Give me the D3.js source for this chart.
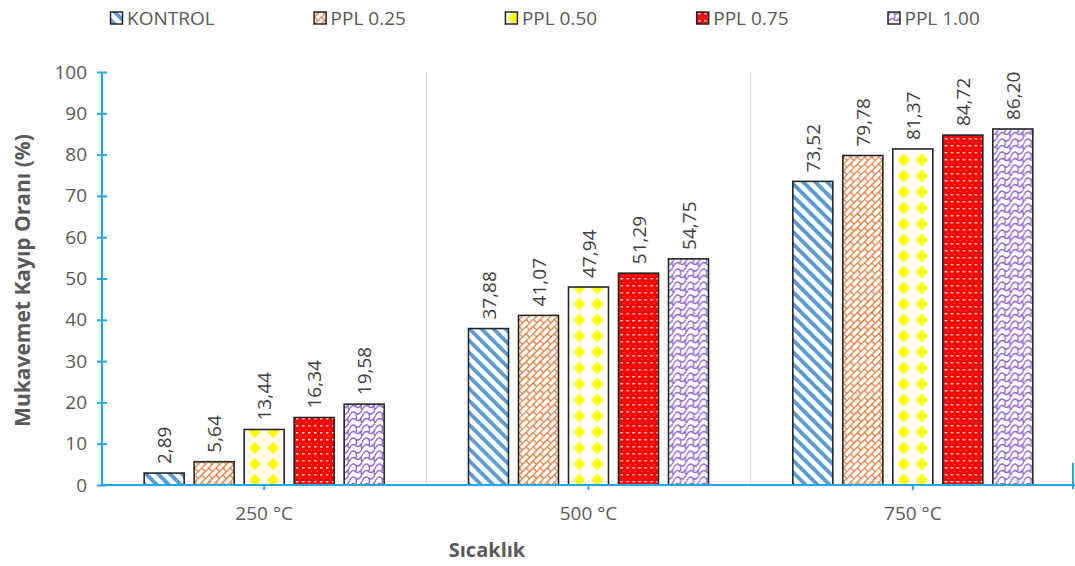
<!DOCTYPE html>
<html>
<head>
<meta charset="utf-8">
<script src="https://cdn.jsdelivr.net/npm/d3@7"></script>
<style>
  body { margin: 0; background: #fff; }
  text { font-family: "Open Sans", "DejaVu Sans", sans-serif; }
</style>
</head>
<body>
<div id="chart"></div>
<script>
// Data
const categories = ['250 °C', '500 °C', '750 °C'];
const seriesNames = ['KONTROL', 'PPL 0.25', 'PPL 0.50', 'PPL 0.75', 'PPL 1.00'];
const kontrol = [2.89, 37.88, 73.52];
const ppl025  = [5.64, 41.07, 79.78];
const ppl050  = [13.44, 47.94, 81.37];
const ppl075  = [16.34, 51.29, 84.72];
const ppl100  = [19.58, 54.75, 86.20];
const yTicks  = [0, 10, 20, 30, 40, 50, 60, 70, 80, 90, 100];

const seriesValues = [kontrol, ppl025, ppl050, ppl075, ppl100];
const patternIds = ['pStripe', 'pBrick', 'pDiamond', 'pDots', 'pShingle'];

const W = 1075, H = 566;
const margin = { top: 72, right: 0, bottom: 81, left: 102 };
const innerW = W - margin.left - margin.right;
const innerH = H - margin.top - margin.bottom;

const axisBlue = '#21a8e8';
const textGray = '#595959';
const fontSize = 19;

const svg = d3.select('#chart').append('svg')
  .attr('width', W).attr('height', H);

// ---- fill patterns (Excel-like) ----
const defs = svg.append('defs');

// blue wide diagonal stripes
const pStripe = defs.append('pattern').attr('id', 'pStripe')
  .attr('patternUnits', 'userSpaceOnUse').attr('width', 8.5).attr('height', 8.5)
  .attr('patternTransform', 'rotate(-45)');
pStripe.append('rect').attr('width', 8.5).attr('height', 8.5).attr('fill', '#fff');
pStripe.append('rect').attr('width', 3.8).attr('height', 8.5).attr('fill', '#5b9bd5');

// orange diagonal brick
const pBrick = defs.append('pattern').attr('id', 'pBrick')
  .attr('patternUnits', 'userSpaceOnUse').attr('width', 10).attr('height', 10)
  .attr('patternTransform', 'rotate(-45)');
pBrick.append('rect').attr('width', 10).attr('height', 10).attr('fill', '#fff');
pBrick.append('path')
  .attr('d', 'M0,0.5H10M0,5.5H10M0.5,0.5V5.5M5.5,5.5V10')
  .attr('stroke', '#e07b3c').attr('stroke-width', 1.3).attr('fill', 'none');

// yellow diamonds
const pDiamond = defs.append('pattern').attr('id', 'pDiamond')
  .attr('patternUnits', 'userSpaceOnUse').attr('width', 18).attr('height', 16);
pDiamond.append('rect').attr('width', 18).attr('height', 16).attr('fill', '#fff');
pDiamond.append('path').attr('d', 'M9,1.5L15,8L9,14.5L3,8Z').attr('fill', '#ffff00');

// red with small white dots
const pDots = defs.append('pattern').attr('id', 'pDots')
  .attr('patternUnits', 'userSpaceOnUse').attr('width', 6).attr('height', 7);
pDots.append('rect').attr('width', 6).attr('height', 7).attr('fill', '#ff0000');
pDots.append('rect').attr('x', 2).attr('y', 3).attr('width', 2.5).attr('height', 1.5)
  .attr('fill', '#fff').attr('opacity', 0.85);
pDots.append('rect').attr('x', 5).attr('y', 0).attr('width', 1).attr('height', 1)
  .attr('fill', '#ffb0b0').attr('opacity', 0.6);

// purple shingle
const pShingle = defs.append('pattern').attr('id', 'pShingle')
  .attr('patternUnits', 'userSpaceOnUse').attr('width', 13).attr('height', 13);
pShingle.append('rect').attr('width', 13).attr('height', 13).attr('fill', '#fff');
pShingle.append('path')
  .attr('d', 'M0,6.5 Q3,0 6.5,3 T13,0 M0,13 Q3,6.5 6.5,9.5 T13,6.5 M6.5,3 Q8.5,6.5 6.5,9.5 M0,6.5 Q-2,10 0,13 M13,6.5 Q11,10 13,13')
  .attr('stroke', '#9467d0').attr('stroke-width', 1.4).attr('fill', 'none');

// ---- scales ----
const g = svg.append('g').attr('transform', `translate(${margin.left},${margin.top})`);

const x0 = d3.scaleBand().domain(categories).range([0, innerW]).padding(0);
const groupW = 240;
const x1 = d3.scaleBand().domain(seriesNames)
  .range([(x0.bandwidth() - groupW) / 2, (x0.bandwidth() + groupW) / 2])
  .paddingInner(0.2);
const y = d3.scaleLinear().domain([0, 100]).range([innerH, 0]);

// category separators (light gray gridlines)
g.append('g').selectAll('line')
  .data(categories.slice(1))
  .join('line')
  .attr('x1', d => x0(d)).attr('x2', d => x0(d))
  .attr('y1', 0).attr('y2', innerH)
  .attr('stroke', '#d9d9d9').attr('stroke-width', 1);

// ---- bars ----
const fmt = d3.formatLocale({ decimal: ',', thousands: '.', grouping: [3], currency: ['', ''] }).format('.2f');

const groups = g.append('g').selectAll('g')
  .data(categories)
  .join('g')
  .attr('transform', d => `translate(${x0(d)},0)`);

const cells = groups.selectAll('g')
  .data((c, ci) => seriesNames.map((s, si) => ({ s, si, v: seriesValues[si][ci] })))
  .join('g');

cells.append('rect')
  .attr('x', d => x1(d.s))
  .attr('y', d => y(d.v))
  .attr('width', x1.bandwidth())
  .attr('height', d => innerH - y(d.v))
  .attr('fill', d => `url(#${patternIds[d.si]})`)
  .attr('stroke', '#262626').attr('stroke-width', 1.6);

cells.append('text')
  .attr('transform', d => `translate(${x1(d.s) + x1.bandwidth() / 2 + 7},${y(d.v) - 9}) rotate(-90)`)
  .attr('text-anchor', 'start')
  .attr('font-size', fontSize)
  .attr('fill', '#404040')
  .text(d => fmt(d.v));

// ---- y axis ----
const yAxis = d3.axisLeft(y).tickValues(yTicks).tickSize(0).tickPadding(15);
const yG = g.append('g').call(yAxis);
yG.select('.domain').remove();
yG.selectAll('text').attr('font-size', fontSize).attr('fill', textGray)
  .attr('font-family', '"Open Sans", sans-serif');
yG.selectAll('.tick').append('line')
  .attr('x1', -5).attr('x2', 5).attr('stroke', axisBlue).attr('stroke-width', 2);
yG.append('line').attr('x1', 0).attr('x2', 0).attr('y1', 0).attr('y2', innerH)
  .attr('stroke', axisBlue).attr('stroke-width', 2.2);

// ---- x axis ----
const xAxis = d3.axisBottom(x0).tickSize(0).tickPadding(22);
const xG = g.append('g').attr('transform', `translate(0,${innerH})`).call(xAxis);
xG.select('.domain').remove();
xG.selectAll('text').attr('font-size', fontSize).attr('fill', textGray)
  .attr('font-family', '"Open Sans", sans-serif');
xG.selectAll('.tick').append('line')
  .attr('y1', 0).attr('y2', 5).attr('stroke', axisBlue).attr('stroke-width', 2);
xG.append('line').attr('x1', 0).attr('x2', innerW).attr('y1', 0).attr('y2', 0)
  .attr('stroke', axisBlue).attr('stroke-width', 2.2);
xG.append('line').attr('x1', innerW - 2).attr('x2', innerW - 2).attr('y1', -22).attr('y2', 4)
  .attr('stroke', axisBlue).attr('stroke-width', 2);

// ---- axis titles ----
svg.append('text')
  .attr('transform', `translate(30,${margin.top + innerH / 2 + 2}) rotate(-90)`)
  .attr('text-anchor', 'middle')
  .attr('font-size', 21).attr('font-weight', 'bold').attr('fill', textGray)
  .text('Mukavemet Kayıp Oranı (%)');

svg.append('text')
  .attr('x', 487).attr('y', 557)
  .attr('text-anchor', 'middle')
  .attr('font-size', 20).attr('font-weight', 'bold').attr('fill', textGray)
  .text('Sıcaklık');

// ---- legend ----
const legend = svg.append('g').attr('transform', 'translate(110,10)');
let lx = 0;
seriesNames.forEach((s, i) => {
  const item = legend.append('g').attr('transform', `translate(${lx},0)`);
  item.append('rect').attr('x', 0.5).attr('y', 2).attr('width', 12).attr('height', 12)
    .attr('fill', `url(#${patternIds[i]})`).attr('stroke', '#262626').attr('stroke-width', 1.5);
  const t = item.append('text').attr('x', 17).attr('y', 15)
    .attr('font-size', fontSize).attr('fill', textGray).text(s);
  lx += 17 + t.node().getComputedTextLength() + 99;
});
</script>
</body>
</html>
